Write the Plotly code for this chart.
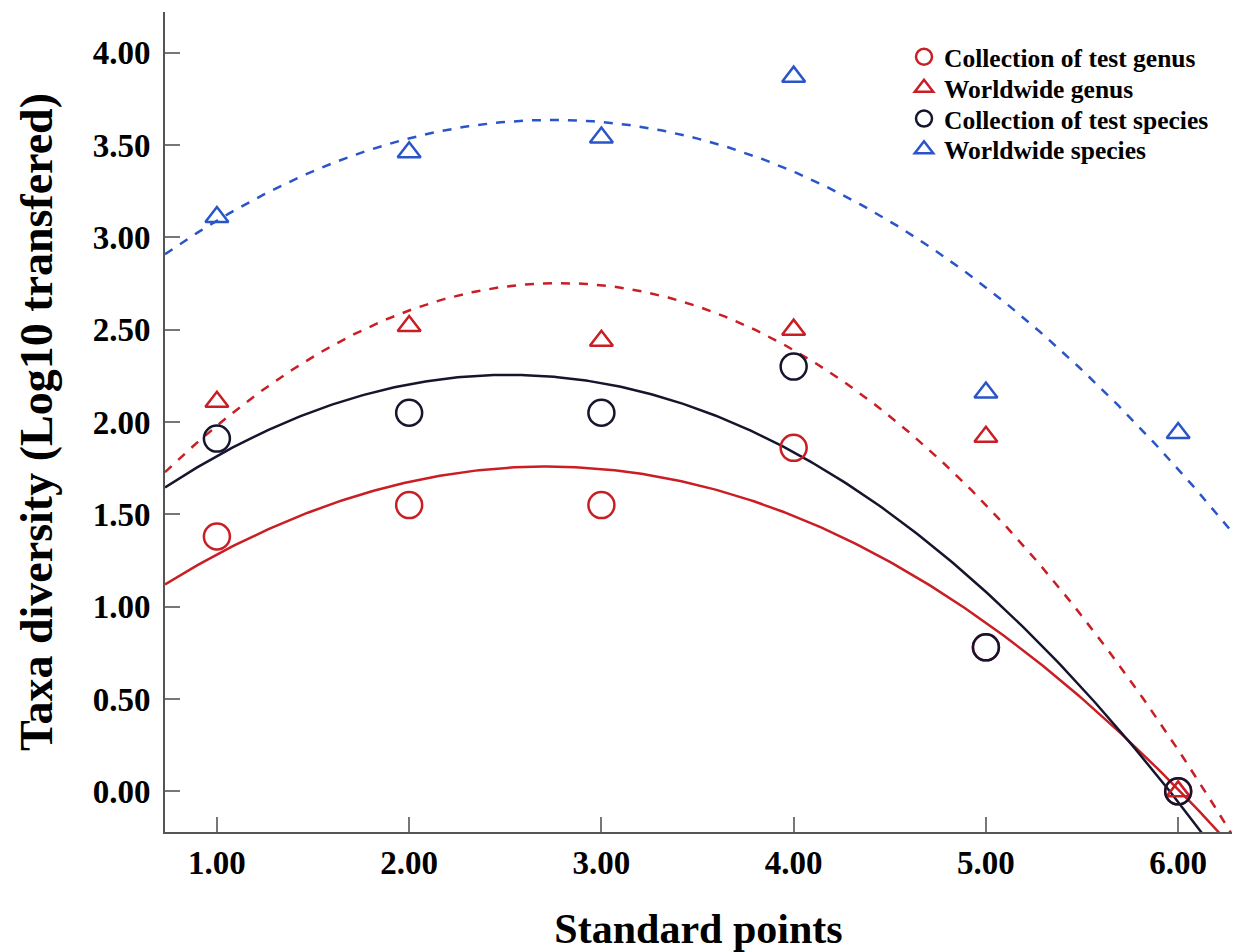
import numpy as np
import plotly.graph_objects as go

x_points = [1, 2, 3, 4, 5, 6]
coll_genus = [1.38, 1.55, 1.55, 1.86, 0.78, 0.00]
world_genus = [2.11, 2.52, 2.44, 2.50, 1.92, 0.00]
coll_species = [1.91, 2.05, 2.05, 2.30, 0.78, 0.00]
world_species = [3.11, 3.46, 3.54, 3.87, 2.16, 1.94]

tick_vals_x = [1, 2, 3, 4, 5, 6]
tick_text_x = ["1.00", "2.00", "3.00", "4.00", "5.00", "6.00"]
tick_vals_y = [0, 0.5, 1, 1.5, 2, 2.5, 3, 3.5, 4]
tick_text_y = ["0.00", "0.50", "1.00", "1.50", "2.00", "2.50", "3.00", "3.50", "4.00"]

RED = "#c81e24"
BLUE = "#2a55c8"
BLACK = "#15152e"

xr = [0.73, 6.28]
yr = [-0.22, 4.22]
xs = np.linspace(xr[0], xr[1], 300)

series = [
    ("Collection of test genus", coll_genus, RED, "circle-open", "solid", 26),
    ("Worldwide genus", world_genus, RED, "triangle-up-open", "dash", 20),
    ("Collection of test species", coll_species, BLACK, "circle-open", "solid", 26),
    ("Worldwide species", world_species, BLUE, "triangle-up-open", "dash", 20),
]
legend_ids = ["legend", "legend2", "legend3", "legend4"]
legend_y = [0.945, 0.907, 0.8695, 0.832]

fig = go.Figure()
for name, ys, col, sym, dash, size in series:
    coef = np.polyfit(x_points, ys, 2)
    fig.add_trace(go.Scatter(x=xs, y=np.polyval(coef, xs), mode="lines",
                             line=dict(color=col, width=2.5, dash=dash),
                             showlegend=False, hoverinfo="skip"))

for (name, ys, col, sym, dash, size), lid in zip(series, legend_ids):
    fig.add_trace(go.Scatter(x=x_points, y=ys, mode="markers", name=name, legend=lid,
                             marker=dict(symbol=sym, size=size, color=col,
                                         line=dict(color=col, width=2.5)),
                             cliponaxis=False))

font_family = "Liberation Serif"
leg_font = dict(family=font_family, size=25.5, color="black", weight="bold")
legends = {}
for lid, ly in zip(legend_ids, legend_y):
    legends[lid] = dict(x=0.6926, y=ly, xanchor="left", yanchor="middle",
                        font=leg_font, bgcolor="rgba(0,0,0,0)",
                        itemsizing="trace", itemwidth=30)

# page body has an 8px margin; size the figure so the plot sits where the reference has it
fig.update_layout(
    width=1235, height=944,
    margin=dict(l=157, r=11, t=4, b=120),
    paper_bgcolor="white", plot_bgcolor="white",
    font=dict(family=font_family, color="black"),
    **legends,
    xaxis=dict(range=xr, tickvals=tick_vals_x, ticktext=tick_text_x, automargin=False,
               showgrid=False, zeroline=False, showline=True, linecolor="#555555",
               linewidth=2, ticks="inside", ticklen=15, tickcolor="#777777", tickwidth=1.5,
               tickfont=dict(family=font_family, size=33, color="black", weight="bold"),
               title=dict(text="Standard points", standoff=42,
                          font=dict(family=font_family, size=42, color="black", weight="bold"))),
    yaxis=dict(range=yr, tickvals=tick_vals_y, ticktext=tick_text_y, automargin=False,
               showgrid=False, zeroline=False, showline=True, linecolor="#555555",
               linewidth=2, ticks="inside", ticklen=15, tickcolor="#777777", tickwidth=1.5,
               ticklabelstandoff=6,
               tickfont=dict(family=font_family, size=33, color="black", weight="bold"),
               title=dict(text="Taxa diversity (Log10 transfered)", standoff=26,
                          font=dict(family=font_family, size=46, color="black", weight="bold"))),
)

fig.write_html("out.html")
